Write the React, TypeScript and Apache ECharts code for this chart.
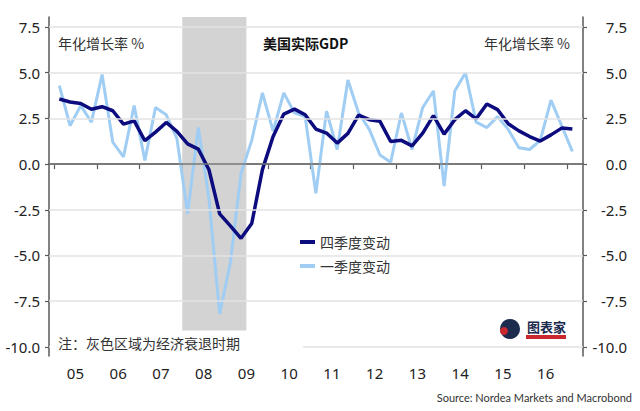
import React, { useEffect, useRef } from "react";
import * as echarts from "echarts";

const quarters: string[] = [
  "2005Q1", "2005Q2", "2005Q3", "2005Q4",
  "2006Q1", "2006Q2", "2006Q3", "2006Q4",
  "2007Q1", "2007Q2", "2007Q3", "2007Q4",
  "2008Q1", "2008Q2", "2008Q3", "2008Q4",
  "2009Q1", "2009Q2", "2009Q3", "2009Q4",
  "2010Q1", "2010Q2", "2010Q3", "2010Q4",
  "2011Q1", "2011Q2", "2011Q3", "2011Q4",
  "2012Q1", "2012Q2", "2012Q3", "2012Q4",
  "2013Q1", "2013Q2", "2013Q3", "2013Q4",
  "2014Q1", "2014Q2", "2014Q3", "2014Q4",
  "2015Q1", "2015Q2", "2015Q3", "2015Q4",
  "2016Q1", "2016Q2", "2016Q3", "2016Q4",
  "2017Q1",
];

// 四季度变动 (year-over-year)
const yoyChange: number[] = [
  3.56, 3.4, 3.32, 3.0,
  3.14, 2.92, 2.19, 2.37,
  1.28, 1.75, 2.28, 1.79,
  1.11, 0.82, -0.31, -2.72,
  -3.38, -4.06, -3.25, -0.3,
  1.51, 2.74, 3.01, 2.7,
  1.92, 1.7, 1.15, 1.68,
  2.68, 2.43, 2.34, 1.24,
  1.3, 1.0, 1.7, 2.65,
  1.64, 2.43, 2.92, 2.48,
  3.29, 2.98, 2.21, 1.82,
  1.51, 1.26, 1.6, 1.97,
  1.92,
];

// 一季度变动 (quarter-over-quarter, annualized)
const qoqChange: number[] = [
  4.3, 2.1, 3.2, 2.3,
  4.9, 1.2, 0.4, 3.2,
  0.2, 3.1, 2.7, 1.4,
  -2.7, 2.0, -1.9, -8.2,
  -5.4, -0.5, 1.3, 3.9,
  1.8, 3.9, 2.8, 2.6,
  -1.6, 2.9, 0.8, 4.6,
  2.8, 1.9, 0.5, 0.1,
  2.8, 0.8, 3.1, 4.0,
  -1.2, 4.0, 5.0, 2.3,
  2.0, 2.6, 1.9, 0.9,
  0.8, 1.3, 3.5, 2.1,
  0.7,
];

const yearTicks: number[] = [2005, 2006, 2007, 2008, 2009, 2010, 2011, 2012, 2013, 2014, 2015, 2016, 2017];
const yearLabels: string[] = ["05", "06", "07", "08", "09", "10", "11", "12", "13", "14", "15", "16"];
const yTickValues: number[] = [-10, -7.5, -5, -2.5, 0, 2.5, 5, 7.5];
const gridValues: number[] = [-10, -7.5, -5, -2.5, 2.5, 5, 7.5];
const recession: [number, number] = [2008.0, 2009.5];

const seriesNames = { yoy: "四季度变动", qoq: "一季度变动" };

const DARK = "#0c0c7e";
const LIGHT = "#9fcdf3";
const NUM_FONT = "Noto Sans, Noto Sans CJK SC, sans-serif";
const CJK_FONT = "Noto Sans CJK SC, Noto Sans, sans-serif";

function quarterToX(q: string): number {
  const y = parseInt(q.slice(0, 4), 10);
  const n = parseInt(q.slice(5), 10);
  return y + (n - 1) / 4 + 0.125;
}

export default function App() {
  const ref = useRef<HTMLDivElement>(null);

  useEffect(() => {
    if (!ref.current) return;
    const chart = echarts.init(ref.current, undefined, { renderer: "svg" });

    const labelValues = yearLabels.map((_, i) => yearTicks[i] + 0.5);
    const yoyData = quarters.map((q, i) => [quarterToX(q), yoyChange[i]]);
    const qoqData = quarters.map((q, i) => [quarterToX(q), qoqChange[i]]);

    const option: any = {
      animation: false,
      backgroundColor: "#ffffff",
      textStyle: { fontFamily: NUM_FONT },
      grid: {
        left: 49,
        right: 57,
        top: 17,
        bottom: 55,
        containLabel: false,
        outerBoundsMode: "none",
      },
      legend: {
        data: [seriesNames.yoy, seriesNames.qoq],
        orient: "vertical",
        left: 298,
        top: 230,
        icon: "rect",
        itemWidth: 15,
        itemHeight: 4,
        itemGap: 8,
        backgroundColor: "#ffffff",
        padding: [4, 51, 6, 2],
        textStyle: { fontSize: 14, color: "#333333", fontFamily: CJK_FONT, lineHeight: 16 },
        selectedMode: false,
      },
      xAxis: {
        type: "value",
        min: 2004.883,
        max: 2017.374,
        axisLine: { show: true, lineStyle: { color: "#595959", width: 1.5 } },
        axisTick: {
          show: true,
          customValues: yearTicks,
          length: 5,
          lineStyle: { color: "#595959", width: 1.2 },
        },
        axisLabel: {
          customValues: labelValues,
          formatter: (v: number) => {
            const idx = labelValues.findIndex((lv) => Math.abs(lv - v) < 1e-6);
            return idx >= 0 ? yearLabels[idx] : "";
          },
          fontSize: 15,
          color: "#222222",
          margin: 9,
        },
        splitLine: { show: false },
      },
      yAxis: [
        {
          type: "value",
          min: -10.5,
          max: 8.05,
          position: "left",
          axisLine: { show: true, lineStyle: { color: "#595959", width: 1.5 } },
          axisTick: {
            show: true,
            customValues: yTickValues,
            length: 4,
            lineStyle: { color: "#595959", width: 1.2 },
          },
          axisLabel: {
            customValues: yTickValues,
            formatter: (v: number) => v.toFixed(1),
            fontSize: 15,
            color: "#222222",
            margin: 9,
          },
          splitLine: { show: false },
        },
        {
          type: "value",
          min: -10.5,
          max: 8.05,
          position: "right",
          axisLine: { show: true, lineStyle: { color: "#595959", width: 1.5 } },
          axisTick: {
            show: true,
            customValues: yTickValues,
            length: 4,
            lineStyle: { color: "#595959", width: 1.2 },
          },
          axisLabel: {
            customValues: yTickValues,
            formatter: (v: number) => v.toFixed(1),
            fontSize: 15,
            color: "#222222",
            align: "right",
            margin: 44,
          },
          splitLine: { show: false },
        },
      ],
      series: [
        {
          name: "recession",
          type: "line",
          data: [],
          z: 0,
          silent: true,
          markArea: {
            silent: true,
            itemStyle: { color: "#d3d3d3" },
            data: [[{ xAxis: recession[0], yAxis: 8.05 }, { xAxis: recession[1], yAxis: -9.1 }]],
          },
        },
        {
          name: "grid",
          type: "line",
          data: [],
          z: 1,
          silent: true,
          markLine: {
            silent: true,
            symbol: ["none", "none"],
            label: { show: false },
            data: [
              ...gridValues.map((v) => ({
                yAxis: v,
                lineStyle: { color: "#e3e3e3", width: 1.5, type: "solid" },
              })),
              { yAxis: 0, lineStyle: { color: "#777777", width: 1.5, type: "solid" } },
            ],
          },
        },
        {
          name: seriesNames.qoq,
          type: "line",
          data: qoqData,
          symbol: "none",
          z: 3,
          lineStyle: { color: LIGHT, width: 3 },
          itemStyle: { color: LIGHT },
        },
        {
          name: seriesNames.yoy,
          type: "line",
          data: yoyData,
          symbol: "none",
          z: 4,
          lineStyle: { color: DARK, width: 3.5 },
          itemStyle: { color: DARK },
        },
      ],
      graphic: [
        {
          type: "text",
          x: 58,
          y: 43,
          style: { text: "年化增长率 %", fontSize: 14, fill: "#333333", fontFamily: CJK_FONT, verticalAlign: "middle", align: "left" },
        },
        {
          type: "text",
          x: 263,
          y: 43,
          style: { text: "美国实际GDP", fontSize: 14, fontWeight: "bold", fill: "#111111", fontFamily: CJK_FONT, verticalAlign: "middle", align: "left" },
        },
        {
          type: "text",
          x: 570,
          y: 43,
          style: { text: "年化增长率 %", fontSize: 14, fill: "#333333", fontFamily: CJK_FONT, verticalAlign: "middle", align: "right" },
        },
        {
          type: "rect",
          shape: { x: 50, y: 331, width: 253, height: 24 },
          style: { fill: "#ffffff" },
          z: 10,
        },
        {
          type: "text",
          x: 58,
          y: 343,
          z: 11,
          style: { text: "注：灰色区域为经济衰退时期", fontSize: 14, fill: "#333333", fontFamily: CJK_FONT, verticalAlign: "middle", align: "left" },
        },
        {
          type: "circle",
          shape: { cx: 510, cy: 329, r: 10 },
          style: { fill: "#1c2b4e" },
          z: 10,
        },
        {
          type: "circle",
          shape: { cx: 504, cy: 331, r: 4 },
          style: { fill: "#c8282e" },
          z: 11,
        },
        {
          type: "text",
          x: 527,
          y: 326,
          z: 11,
          style: { text: "图表家", fontSize: 13, fontWeight: "bold", fill: "#1c2b4e", fontFamily: CJK_FONT, verticalAlign: "middle", align: "left" },
        },
        {
          type: "rect",
          shape: { x: 526, y: 335, width: 40, height: 4 },
          style: { fill: "#c8282e" },
          z: 11,
        },
        {
          type: "text",
          x: 632,
          y: 397,
          style: { text: "Source: Nordea Markets and Macrobond", fontSize: 11, fill: "#333333", fontFamily: "Lato, Noto Sans, sans-serif", verticalAlign: "middle", align: "right" },
        },
      ],
    };

    chart.setOption(option);
    return () => {
      chart.dispose();
    };
  }, []);

  return <div ref={ref} style={{ width: 640, height: 411, position: "absolute", left: 0, top: 0 }} />;
}
